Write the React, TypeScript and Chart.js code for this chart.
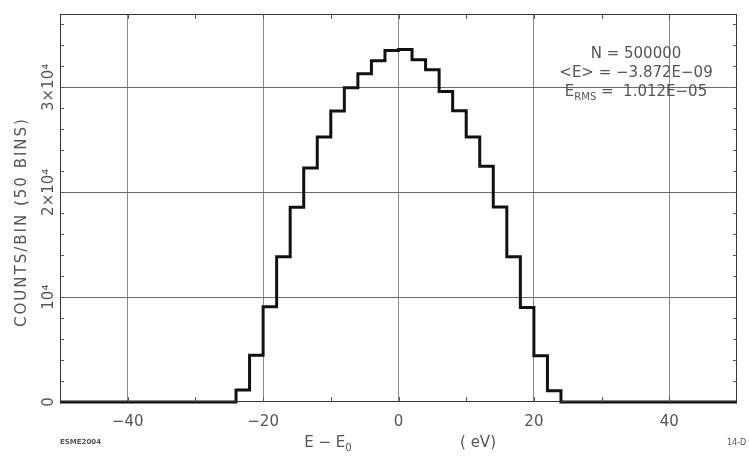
import React, { useEffect, useRef } from "react";
import { Chart, registerables } from "chart.js";

Chart.register(...registerables);

// ---- data ----
const binEdges: number[] = [
  -50, -48, -46, -44, -42, -40, -38, -36, -34, -32, -30, -28, -26, -24, -22, -20, -18,
  -16, -14, -12, -10, -8, -6, -4, -2, 0, 2, 4, 6, 8, 10, 12, 14, 16, 18, 20, 22, 24,
  26, 28, 30, 32, 34, 36, 38, 40, 42, 44, 46, 48, 50,
];
const binCounts: number[] = [
  0, 0, 0, 0, 0, 0, 0, 0, 0, 0, 0, 0, 0,
  1140, 4470, 9080, 13840, 18570, 22310, 25270, 27750, 29970, 31300, 32540, 33520,
  33620, 32640, 31680, 29620, 27780, 25270, 22480, 18600, 13840, 9020, 4410, 1080,
  0, 0, 0, 0, 0, 0, 0, 0, 0, 0, 0, 0, 0,
];
const xTickValues: number[] = [-50, -40, -30, -20, -10, 0, 10, 20, 30, 40, 50];
const xMajorTicks: number[] = [-40, -20, 0, 20, 40];
const xTickLabels: string[] = ["\u221240", "\u221220", "0", "20", "40"];
const yTickValues: number[] = [
  0, 2000, 4000, 6000, 8000, 10000, 12000, 14000, 16000, 18000, 20000, 22000, 24000,
  26000, 28000, 30000, 32000, 34000, 36000,
];
const yMajorTicks: number[] = [0, 10000, 20000, 30000];
const yTickLabels: string[] = ["0", "10\u2074", "2\u00d710\u2074", "3\u00d710\u2074"];
const statLines: string[] = ["N = 500000", "<E> = \u22123.872E\u221209", "1.012E\u221205"];

const TEXT = "#555";
const FONT = "'DejaVu Sans', sans-serif";

const decorPlugin = {
  id: "decor",
  afterDraw(chart: any) {
    const ctx = chart.ctx as CanvasRenderingContext2D;
    const { left, right, top, bottom } = chart.chartArea;
    const xs = chart.scales.x;
    const ys = chart.scales.y;
    ctx.save();
    // frame
    ctx.strokeStyle = "#333";
    ctx.lineWidth = 1;
    ctx.strokeRect(left + 0.5, top + 0.5, right - left - 1, bottom - top - 1);
    // inward minor ticks
    ctx.strokeStyle = "#555";
    ctx.beginPath();
    for (const v of xTickValues) {
      if (v <= -50 || v >= 50) continue;
      const px = Math.round(xs.getPixelForValue(v)) + 0.5;
      ctx.moveTo(px, top);
      ctx.lineTo(px, top + 5);
      ctx.moveTo(px, bottom);
      ctx.lineTo(px, bottom - 5);
    }
    for (const v of yTickValues) {
      if (v <= 0) continue;
      const py = Math.round(ys.getPixelForValue(v)) + 0.5;
      ctx.moveTo(left, py);
      ctx.lineTo(left + 4, py);
      ctx.moveTo(right, py);
      ctx.lineTo(right - 4, py);
    }
    ctx.stroke();

    // stats text
    ctx.fillStyle = TEXT;
    ctx.textBaseline = "middle";
    ctx.font = `15px ${FONT}`;
    ctx.textAlign = "center";
    const cx = 636;
    ctx.fillText(statLines[0], cx, 54);
    ctx.fillText(statLines[1], cx, 73);
    // E_RMS line
    ctx.textAlign = "left";
    const partA = "E";
    const partEq = " =  ";
    ctx.font = `15px ${FONT}`;
    const wA = ctx.measureText(partA).width;
    ctx.font = `10px ${FONT}`;
    const wSub = ctx.measureText("RMS").width;
    ctx.font = `15px ${FONT}`;
    const wEq = ctx.measureText(partEq).width;
    const wVal = ctx.measureText(statLines[2]).width;
    const x0 = cx - (wA + wSub + wEq + wVal) / 2;
    ctx.fillText(partA, x0, 92);
    ctx.font = `10px ${FONT}`;
    ctx.fillText("RMS", x0 + wA, 97);
    ctx.font = `15px ${FONT}`;
    ctx.fillText(partEq + statLines[2], x0 + wA + wSub, 92);

    // x-axis title
    ctx.font = `15px ${FONT}`;
    const t1 = "E \u2212 E";
    const w1 = ctx.measureText(t1).width;
    ctx.font = `10px ${FONT}`;
    const w0 = ctx.measureText("0").width;
    const xt = 328 - (w1 + w0) / 2;
    ctx.font = `15px ${FONT}`;
    ctx.fillText(t1, xt, 443);
    ctx.font = `10px ${FONT}`;
    ctx.fillText("0", xt + w1, 448);
    ctx.font = `15px ${FONT}`;
    ctx.textAlign = "center";
    ctx.fillText("( eV)", 478, 443);

    // footers
    ctx.textAlign = "left";
    ctx.font = `bold 7px ${FONT}`;
    ctx.fillText("ESME2004", 60, 442);
    ctx.font = `8px ${FONT}`;
    ctx.fillText("14-D", 727, 443);

    // y-axis title
    ctx.save();
    ctx.translate(22, 222);
    ctx.rotate(-Math.PI / 2);
    ctx.textAlign = "center";
    ctx.font = `15px ${FONT}`;
    (ctx as any).letterSpacing = "2px";
    ctx.fillText("COUNTS/BIN (50 BINS)", 0, 0);
    ctx.restore();
    ctx.restore();
  },
};

export default function App() {
  const ref = useRef<HTMLCanvasElement | null>(null);
  useEffect(() => {
    document.body.style.margin = "0";
    const canvas = ref.current;
    if (!canvas) return;
    const points = binEdges.map((e, i) => ({
      x: e,
      y: binCounts[Math.min(i, binCounts.length - 1)],
    }));
    const chart = new Chart(canvas, {
      type: "line",
      data: {
        datasets: [
          {
            data: points,
            stepped: "before",
            borderColor: "#111",
            borderWidth: 3,
            pointRadius: 0,
            fill: false,
            clip: 6,
          } as any,
        ],
      },
      options: {
        responsive: false,
        animation: false,
        layout: { padding: { left: 0, top: 14, right: 12, bottom: 0 } },
        plugins: { legend: { display: false }, tooltip: { enabled: false } },
        scales: {
          x: {
            type: "linear",
            min: -50,
            max: 50,
            afterBuildTicks: (s: any) => {
              s.ticks = xTickValues.map((v) => ({ value: v }));
            },
            afterFit: (s: any) => {
              s.height = 60;
            },
            grid: {
              drawTicks: false,
              color: (c: any) =>
                c.tick && xMajorTicks.includes(c.tick.value) ? "#8a8a8a" : "rgba(0,0,0,0)",
            },
            border: { display: false },
            ticks: {
              autoSkip: false,
              maxRotation: 0,
              padding: 11,
              color: TEXT,
              font: { family: FONT, size: 15 },
              callback: (v: any) => {
                const i = xMajorTicks.indexOf(Number(v));
                return i >= 0 ? xTickLabels[i] : "";
              },
            },
          },
          y: {
            type: "linear",
            min: 0,
            max: 37000,
            afterBuildTicks: (s: any) => {
              s.ticks = yTickValues.map((v) => ({ value: v }));
            },
            afterFit: (s: any) => {
              s.width = 60;
            },
            grid: {
              drawTicks: false,
              color: (c: any) =>
                c.tick && c.tick.value > 0 && yMajorTicks.includes(c.tick.value)
                  ? "#6a6a6a"
                  : "rgba(0,0,0,0)",
            },
            border: { display: false },
            ticks: {
              autoSkip: false,
              minRotation: 90,
              maxRotation: 90,
              crossAlign: "center",
              padding: -13,
              color: TEXT,
              font: { family: FONT, size: 15 },
              callback: (v: any) => {
                const i = yMajorTicks.indexOf(Number(v));
                return i >= 0 ? yTickLabels[i] : "";
              },
            },
          },
        },
      },
      plugins: [decorPlugin],
    });
    return () => chart.destroy();
  }, []);
  return (
    <div style={{ width: 749, height: 462, background: "#fff" }}>
      <canvas ref={ref} width={749} height={462} style={{ display: "block" }} />
    </div>
  );
}
